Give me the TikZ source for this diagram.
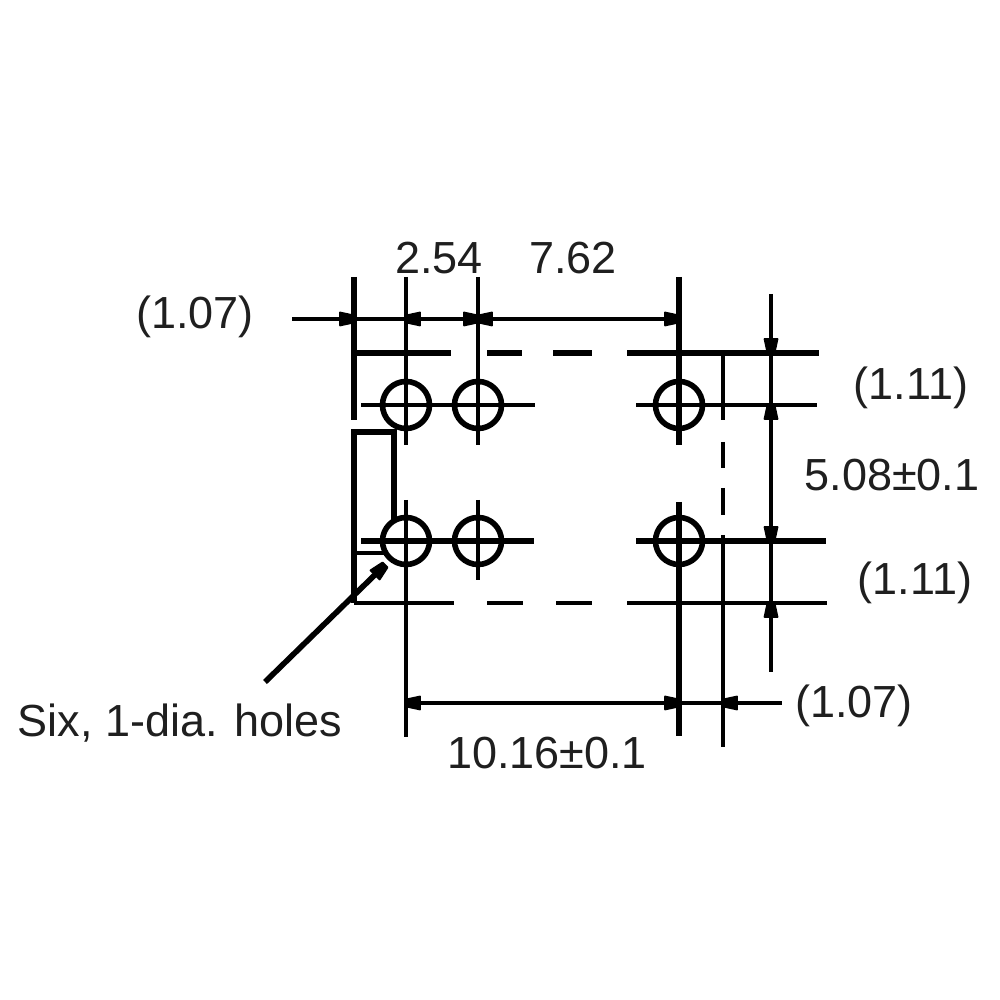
\documentclass[tikz,border=0pt]{standalone}
\usepackage{fontspec}
\setmainfont{Liberation Sans}
\tikzset{
  thinline/.style={line width=1.05pt},
  thickline/.style={line width=1.6pt},
  hole/.style={circle,draw,line width=1.6pt,minimum size=.47cm,inner sep=0pt},
  dimtext/.style={font=\fontsize{12.8}{15}\selectfont,text=black!88,inner sep=0pt}
}
\begin{document}
\begin{tikzpicture}
  \useasboundingbox (0,0) rectangle (10,10);
  \fill[white] (0,0) rectangle (10,10);
  \coordinate [] (P1) at (4.06,5.95);
  \coordinate [] (P2) at (4.78,5.95);
  \coordinate [] (P3) at (6.79,5.95);
  \coordinate [] (P4) at (4.06,4.59);
  \coordinate [] (P5) at (4.78,4.59);
  \coordinate [] (P6) at (6.79,4.59);
  \foreach \p/\name in {P1/hole1,P2/hole2,P3/hole3,P4/hole4,P5/hole5,P6/hole6}
    \node[hole] (\name) at (\p) {};
  % vertical lines
  \draw[thickline] (3.54,7.23) -- (3.54,5.80);
  \draw[thinline] (4.06,7.23) -- (4.06,5.55);
  \draw[thinline] (4.78,7.23) -- (4.78,5.55);
  \draw[thickline] (6.79,7.23) -- (6.79,5.55);
  \draw[thinline] (4.06,5.00) -- (4.06,2.63);
  \draw[thinline] (4.78,5.00) -- (4.78,4.20);
  \draw[thickline] (6.79,4.98) -- (6.79,2.64);
  \draw[thinline] (7.23,6.47) -- (7.23,5.80);
  \draw[thinline] (7.23,5.58) -- (7.23,5.32);
  \draw[thinline] (7.23,5.12) -- (7.23,4.85);
  \draw[thinline] (7.23,4.65) -- (7.23,2.53);
  \draw[thinline] (7.71,7.06) -- (7.71,3.28);
  % horizontal lines
  \draw[thinline] (2.92,6.81) -- (6.79,6.81);
  \draw[thickline] (3.54,6.47) -- (4.51,6.47);
  \draw[thickline] (4.87,6.47) -- (5.22,6.47);
  \draw[thickline] (5.53,6.47) -- (5.92,6.47);
  \draw[thickline] (6.27,6.47) -- (8.19,6.47);
  \draw[thinline] (3.61,5.95) -- (5.35,5.95);
  \draw[thinline] (6.36,5.95) -- (8.17,5.95);
  \draw[thickline] (3.61,4.59) -- (5.34,4.59);
  \draw[thickline] (6.36,4.59) -- (8.26,4.59);
  \draw[thinline] (3.54,3.97) -- (4.54,3.97);
  \draw[thinline] (4.87,3.97) -- (5.23,3.97);
  \draw[thinline] (5.56,3.97) -- (5.92,3.97);
  \draw[thinline] (6.27,3.97) -- (8.27,3.97);
  \draw[thinline] (4.06,2.97) -- (7.82,2.97);
  % leader box
  \draw[thickline] (3.54,3.97) -- (3.54,5.68) -- (3.94,5.68) -- (3.94,4.80);
  \draw[thinline] (3.54,4.47) -- (3.84,4.47);
  \draw[line width=1.6pt] (2.65,3.18) -- (3.85,4.35);
  % arrow tips
  \foreach \x/\y/\a in {3.54/6.81/0,4.06/6.81/180,4.78/6.81/0,4.78/6.81/180,6.79/6.81/0,
    7.71/6.47/-90,7.71/5.95/90,7.71/4.59/-90,7.71/3.97/90,
    4.06/2.97/180,6.79/2.97/0,7.23/2.97/180,3.85/4.35/45}
    \filldraw[line join=round,line width=.5pt,shift={(\x,\y)},rotate=\a]
      (0,.035) -- (-.14,.065) -- (-.14,-.065) -- (0,-.035) -- cycle;
  % labels
  \node[dimtext] (d254) at (4.39,7.42) {2.54};
  \node[dimtext] (d762) at (5.73,7.42) {7.62};
  \node[dimtext] (d107a) at (1.95,6.83) {(1.07)};
  \node[dimtext] (d111a) at (9.11,6.12) {(1.11)};
  \node[dimtext] (d508) at (8.92,5.25) {5.08±0.1};
  \node[dimtext] (d111b) at (9.15,4.17) {(1.11)};
  \node[dimtext] (d107b) at (8.54,2.94) {(1.07)};
  \node[dimtext] (dhole) at (1.80,2.77) {Six, 1-dia. holes};
  \node[dimtext] (d1016) at (5.47,2.47) {10.16±0.1};
\end{tikzpicture}
\end{document}
